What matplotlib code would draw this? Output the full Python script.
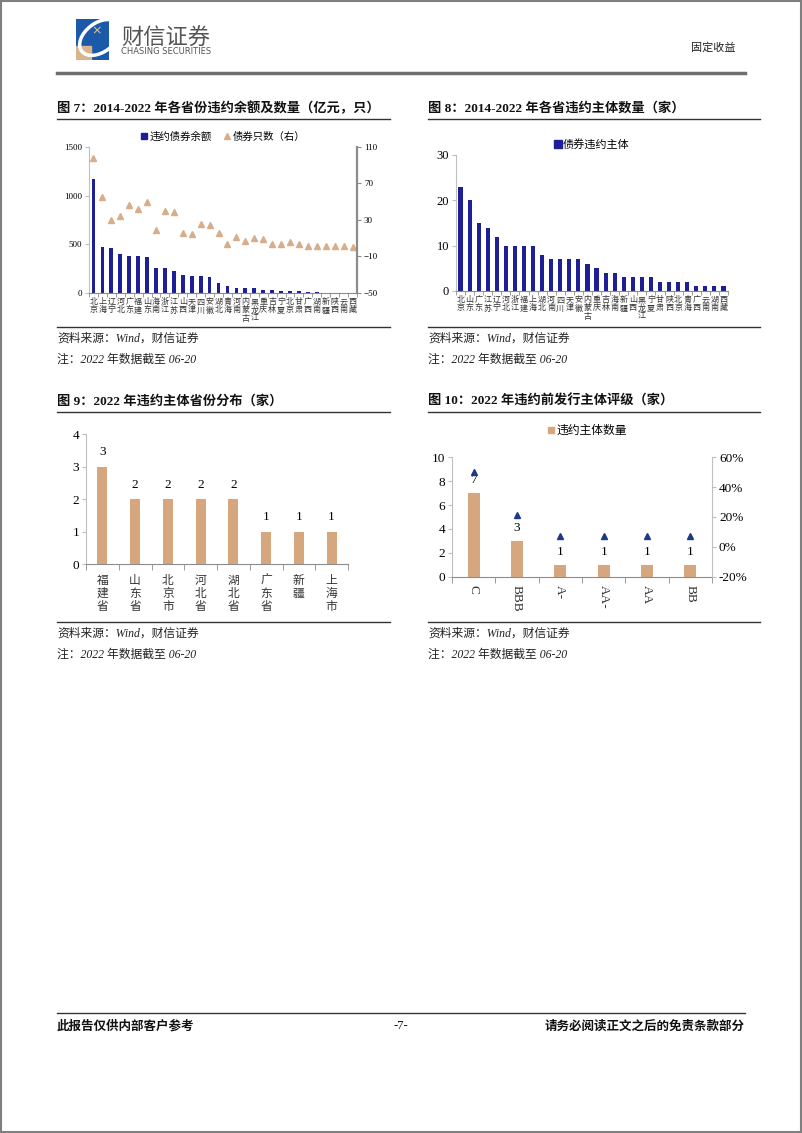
import matplotlib
matplotlib.use("Agg")
import matplotlib.pyplot as plt
import numpy as np
from matplotlib.lines import Line2D
from matplotlib.patches import Rectangle, Ellipse
from matplotlib.ticker import FuncFormatter

plt.rcParams['font.family'] = ['Liberation Serif', 'Noto Sans CJK SC']
CJK = ['Noto Sans CJK SC', 'Liberation Serif']
MIX = ['Liberation Serif', 'Noto Sans CJK SC']

NAVY = '#1f1f95'
TAN = '#d6a77f'
TRI_TAN = '#d8ad8a'
TRI_NAVY = '#1d3a86'

# ---- data ----
prov7 = ['北京', '上海', '辽宁', '河北', '广东', '福建', '山东', '海南', '浙江', '江苏',
         '山西', '天津', '四川', '安徽', '湖北', '青海', '河南', '内蒙古', '黑龙江', '重庆',
         '吉林', '宁夏', '北京', '甘肃', '广西', '湖南', '新疆', '陕西', '云南', '西藏']
amount7 = [1170, 470, 460, 405, 385, 385, 365, 260, 260, 225,
           185, 175, 175, 165, 100, 72, 50, 50, 50, 35,
           28, 20, 20, 18, 8, 6, 5, 4, 3, 3]
count7 = [98, 55, 30, 34, 46, 42, 50, 19, 40, 39,
          16, 15, 26, 24, 16, 4, 11, 7, 10, 9,
          4, 4, 6, 4, 1, 2, 2, 1, 1, 0]

prov8 = ['北京', '山东', '广东', '江苏', '辽宁', '河北', '浙江', '福建', '上海', '湖北',
         '河南', '四川', '天津', '安徽', '内蒙古', '重庆', '吉林', '海南', '新疆', '山西',
         '黑龙江', '宁夏', '甘肃', '陕西', '北京', '青海', '广西', '云南', '湖南', '西藏']
issuers8 = [23, 20, 15, 14, 12, 10, 10, 10, 10, 8,
            7, 7, 7, 7, 6, 5, 4, 4, 3, 3,
            3, 3, 2, 2, 2, 2, 1, 1, 1, 1]

prov9 = ['福建省', '山东省', '北京市', '河北省', '湖北省', '广东省', '新疆', '上海市']
issuers9 = [3, 2, 2, 2, 2, 1, 1, 1]

rating10 = ['C', 'BBB', 'A-', 'AA-', 'AA', 'BB']
issuers10 = [7, 3, 1, 1, 1, 1]
share10 = [0.50, 0.214, 0.071, 0.071, 0.071, 0.071]

W, H = 802, 1133
fig = plt.figure(figsize=(W / 100, H / 100), dpi=100)


def fx(x):
    return x / W


def fy(y):
    return 1 - y / H


def rect(x0, y0, x1, y1):
    return [fx(x0), fy(y1), fx(x1) - fx(x0), (y1 - y0) / H]


def hline(x0, x1, y, lw=1.0, color='#333333'):
    fig.add_artist(Line2D([fx(x0), fx(x1)], [fy(y), fy(y)], lw=lw, color=color))


def text(x, y, s, **kw):
    fig.text(fx(x), fy(y), s, va='center', **kw)


# page border
fig.add_artist(Rectangle((0.001, 0.001), 0.998, 0.998, fill=False, ec='#7f7f7f', lw=1.5))

# ---- header ----
logo = fig.add_axes(rect(76, 19, 109, 60))
logo.set_xlim(0, 1)
logo.set_ylim(0, 1)
logo.axis('off')
logo.add_patch(Rectangle((0, 0), 1, 1, color='#1a5aa8'))
logo.add_patch(Rectangle((0, 0), 0.45, 0.35, color='#d9b48c'))
logo.add_patch(Ellipse((0.72, 0.55), 1.3, 0.75, angle=25, fill=False, ec='white', lw=2.5))
logo.text(0.62, 0.72, '×', color='#f0c080', fontsize=9, ha='center', va='center', family='DejaVu Sans')
text(121, 38, '财信证券', fontsize=16, color='#555555', family=CJK)
text(121, 52, 'CHASING SECURITIES', fontsize=6, color='#555555', family='DejaVu Sans')
text(735, 48, '固定收益', fontsize=8, color='#222222', family=CJK, ha='right')
hline(57, 745, 73, lw=2.5, color='#6e6e6e')

# ---- titles and notes ----
for x0, x1, y, s in [(57, 390, 108, '图 7：2014-2022 年各省份违约余额及数量（亿元，只）'),
                     (428, 760, 108, '图 8：2014-2022 年各省违约主体数量（家）'),
                     (57, 390, 401, '图 9：2022 年违约主体省份分布（家）'),
                     (428, 760, 401, '图 10：2022 年违约前发行主体评级（家）')]:
    text(x0, y, s, fontsize=9.5, fontweight='bold', family=MIX, color='#111111')
    hline(x0, x1, y + 11, lw=1.0)

for x0, x1, y in [(57, 390, 327), (428, 760, 327), (57, 390, 622), (428, 760, 622)]:
    hline(x0, x1, y, lw=1.0)
    text(x0, y + 12, '资料来源：Wind，财信证券', fontsize=8.5, family=MIX, color='#222222', style='italic')
    text(x0, y + 33, '注：2022 年数据截至 06-20', fontsize=8.5, family=MIX, color='#222222', style='italic')


def style_axes(ax, n, fs):
    ax.set_xlim(-0.5, n - 0.5)
    for side in ['top', 'right']:
        ax.spines[side].set_visible(False)
    ax.spines['left'].set_color('#bfbfbf')
    ax.spines['bottom'].set_color('#8c8c8c')
    ax.set_xticks(np.arange(-0.5, n, 1.0), minor=True)
    ax.tick_params(axis='x', which='major', length=0, pad=3)
    ax.tick_params(axis='x', which='minor', length=3, color='#8c8c8c')
    ax.tick_params(axis='y', length=3, color='#bfbfbf', labelsize=fs, pad=2)


def vlabels(names):
    return ['\n'.join(list(s)) for s in names]


# ---- chart 7 ----
ax7 = fig.add_axes(rect(89, 147, 357, 293))
x7 = np.arange(len(prov7))
ax7.bar(x7, amount7, width=0.42, color=NAVY)
style_axes(ax7, len(prov7), 6.5)
ax7.set_ylim(0, 1500)
ax7.set_yticks([0, 500, 1000, 1500])
ax7.set_xticks(x7)
ax7.set_xticklabels(vlabels(prov7), fontsize=5.8, family=CJK, linespacing=0.9, color='#333333')
ax7r = ax7.twinx()
ax7r.plot(x7, count7, linestyle='none', marker='^', markersize=5, color=TRI_TAN)
ax7r.set_ylim(-50, 110)
ax7r.set_yticks([-50, -10, 30, 70, 110])
for side in ['top', 'left', 'bottom']:
    ax7r.spines[side].set_visible(False)
ax7r.spines['right'].set_color('#8c8c8c')
ax7r.spines['right'].set_linewidth(1.6)
ax7r.tick_params(axis='y', length=3, color='#8c8c8c', labelsize=6.5, pad=2)
h7 = [Line2D([], [], linestyle='none', marker='s', markersize=4.5, color=NAVY),
      Line2D([], [], linestyle='none', marker='^', markersize=5, color=TRI_TAN)]
ax7.legend(h7, ['违约债券余额', '债券只数（右）'], loc='lower center', bbox_to_anchor=(0.5, 1.0),
           ncol=2, frameon=False, handlelength=0.6, handletextpad=0.2, columnspacing=1.2,
           prop={'family': CJK, 'size': 7.5}, borderaxespad=0.1)

# ---- chart 8 ----
ax8 = fig.add_axes(rect(456, 155, 728, 291))
x8 = np.arange(len(prov8))
ax8.bar(x8, issuers8, width=0.45, color=NAVY)
style_axes(ax8, len(prov8), 9)
ax8.set_ylim(0, 30)
ax8.set_yticks([0, 10, 20, 30])
ax8.set_xticks(x8)
ax8.set_xticklabels(vlabels(prov8), fontsize=5.8, family=CJK, linespacing=0.9, color='#333333')
h8 = [Line2D([], [], linestyle='none', marker='s', markersize=5.5, color=NAVY)]
ax8.legend(h8, ['债券违约主体'], loc='lower center', bbox_to_anchor=(0.5, 1.0),
           frameon=False, handlelength=0.6, handletextpad=0.2,
           prop={'family': CJK, 'size': 8}, borderaxespad=0.1)

# ---- chart 9 ----
ax9 = fig.add_axes(rect(86, 434, 348, 564))
x9 = np.arange(len(prov9))
ax9.bar(x9, issuers9, width=0.3, color=TAN)
style_axes(ax9, len(prov9), 9.5)
ax9.tick_params(axis='x', which='minor', length=4)
ax9.set_ylim(0, 4)
ax9.set_yticks([0, 1, 2, 3, 4])
ax9.set_xticks(x9)
ax9.set_xticklabels(vlabels(prov9), fontsize=8.5, family=CJK, linespacing=1.0, color='#333333')
ax9.tick_params(axis='x', which='major', pad=7)
for xi, v in zip(x9, issuers9):
    ax9.annotate(str(v), (xi, v), xytext=(0, 6), textcoords='offset points',
                 ha='center', va='bottom', fontsize=9.5)

# ---- chart 10 ----
ax10 = fig.add_axes(rect(452, 457, 712, 577))
x10 = np.arange(len(rating10))
ax10.bar(x10, issuers10, width=0.28, color=TAN)
style_axes(ax10, len(rating10), 9.5)
ax10.tick_params(axis='x', which='minor', length=4)
ax10.set_ylim(0, 10)
ax10.set_yticks([0, 2, 4, 6, 8, 10])
ax10.set_xticks(x10)
ax10.set_xticklabels(rating10, rotation=-90, fontsize=9.5, va='top', color='#333333')
ax10.tick_params(axis='x', which='major', pad=6)
for xi, v in zip(x10, issuers10):
    ax10.annotate(str(v), (xi, v), xytext=(0, 5), textcoords='offset points',
                  ha='center', va='bottom', fontsize=9.5)
ax10r = ax10.twinx()
ax10r.plot(x10, share10, linestyle='none', marker='^', markersize=5, color=TRI_NAVY)
ax10r.set_ylim(-0.2, 0.6)
ax10r.set_yticks([-0.2, 0, 0.2, 0.4, 0.6])
ax10r.yaxis.set_major_formatter(FuncFormatter(lambda v, p: '{:.0f}%'.format(v * 100)))
for side in ['top', 'left', 'bottom']:
    ax10r.spines[side].set_visible(False)
ax10r.spines['right'].set_color('#bfbfbf')
ax10r.tick_params(axis='y', length=3, color='#bfbfbf', labelsize=9.5, pad=2)
h10 = [Line2D([], [], linestyle='none', marker='s', markersize=5, color=TAN)]
ax10.legend(h10, ['违约主体数量'], loc='lower center', bbox_to_anchor=(0.52, 1.12),
            frameon=False, handlelength=0.6, handletextpad=0.2,
            prop={'family': CJK, 'size': 8.5}, borderaxespad=0.1)

# ---- footer ----
hline(57, 745, 1013, lw=1.0)
text(57, 1026, '此报告仅供内部客户参考', fontsize=9, fontweight='bold', family=CJK, color='#111111')
text(401, 1026, '-7-', fontsize=9, ha='center', color='#111111')
text(745, 1026, '请务必阅读正文之后的免责条款部分', fontsize=9, fontweight='bold', family=CJK,
     ha='right', color='#111111')

fig.savefig('out.png', dpi=100)
